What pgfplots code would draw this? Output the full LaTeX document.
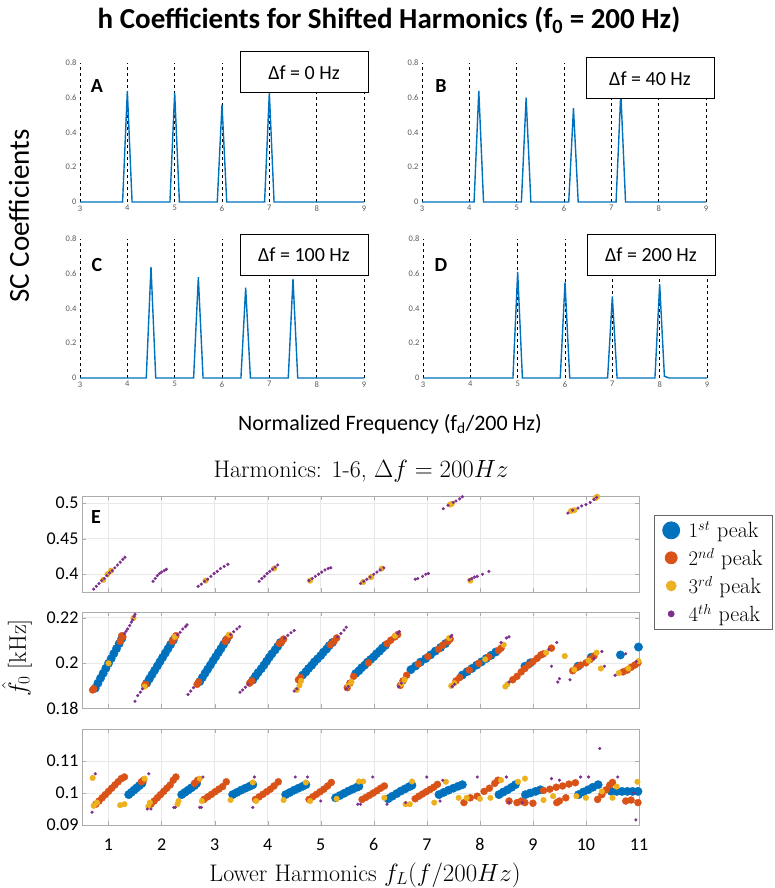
\documentclass[border=0pt]{standalone}
\usepackage{pgfplots}
\pgfplotsset{compat=1.18}
\usepackage{fontspec}
\newfontfamily\carlito{Carlito}
\definecolor{mblue}{rgb}{0,0.447,0.741}
\definecolor{morange}{rgb}{0.85,0.325,0.098}
\definecolor{myellow}{rgb}{0.929,0.694,0.125}
\definecolor{mpurple}{rgb}{0.494,0.184,0.556}
\pgfplotsset{
 specax/.style={scale only axis, width=284pt, height=139pt, xmin=3, xmax=9, ymin=0, ymax=0.8,
   xtick={3,4,5,6,7,8,9}, xticklabels={3,4,5,6,7,8,9},
   ytick={0,0.2,0.4,0.6,0.8}, yticklabels={0,0.2,0.4,0.6,0.8},
   xmajorgrids, major grid style={black, dashed, line width=0.7pt},
   y axis line style={draw=none}, x axis line style={gray!50},
   tick label style={font=\carlito\fontsize{8.5}{9}\selectfont, text=black!65},
   major tick length=0pt, /pgf/number format/assume math mode=true},
 specline/.style={color=mblue, line width=1.4pt, no marks},
 scat/.style={scale only axis, width=557pt, height=96pt, xmin=0.5, xmax=11,
   xtick={1,2,3,4,5,6,7,8,9,10,11},
   xmajorgrids, ymajorgrids, grid style={gray!18, line width=0.5pt},
   axis line style={gray!65, line width=0.8pt}, tick style={gray!65},
   major tick length=4pt, tick align=inside,
   tick label style={font=\carlito\fontsize{18}{20}\selectfont},
   xticklabel style={yshift=-10pt},
   /pgf/number format/assume math mode=true},
 pb/.style={only marks, mark=*, mark size=4.2pt, mark options={draw=mblue, fill=mblue}},
 po/.style={only marks, mark=*, mark size=3.5pt, mark options={draw=morange, fill=morange}},
 py/.style={only marks, mark=*, mark size=2.8pt, mark options={draw=myellow, fill=myellow}},
 pp/.style={only marks, mark=*, mark size=1.4pt, mark options={draw=mpurple, fill=mpurple}},
}
\begin{document}
\begin{tikzpicture}
\path[use as bounding box] (0,0) rectangle (775pt,-888pt);

% ---------- Panel A ----------
\begin{axis}[specax, at={(80pt,-202pt)}, anchor=south west]
\addplot[specline] coordinates {(3,0) (3.9,0) (4,0.64) (4.1,0) (4.9,0) (5,0.63) (5.1,0) (5.9,0) (6,0.56) (6.1,0) (6.9,0) (7,0.63) (7.1,0) (9,0)};
\end{axis}
% ---------- Panel B ----------
\begin{axis}[specax, at={(422pt,-202pt)}, anchor=south west]
\addplot[specline] coordinates {(3,0) (4.1,0) (4.2,0.64) (4.3,0) (5.1,0) (5.2,0.60) (5.3,0) (6.1,0) (6.2,0.54) (6.3,0) (7.1,0) (7.2,0.63) (7.3,0) (9,0)};
\end{axis}
% ---------- Panel C ----------
\begin{axis}[specax, at={(80pt,-378pt)}, anchor=south west]
\addplot[specline] coordinates {(3,0) (4.4,0) (4.5,0.64) (4.6,0) (5.4,0) (5.5,0.58) (5.6,0) (6.4,0) (6.5,0.52) (6.6,0) (7.4,0) (7.5,0.57) (7.6,0) (9,0)};
\end{axis}
% ---------- Panel D ----------
\begin{axis}[specax, at={(423pt,-378pt)}, anchor=south west]
\addplot[specline] coordinates {(3,0) (4.9,0) (5,0.61) (5.1,0) (5.9,0) (6,0.55) (6.1,0) (6.9,0) (7,0.47) (7.1,0) (7.9,0) (8,0.54) (8.1,0.01) (8.2,0) (9,0)};
\end{axis}

% annotation boxes and letters
\begin{scope}[every node/.style={draw, line width=1pt, fill=white, minimum width=128pt, minimum height=41pt, font=\carlito\fontsize{20}{23}\selectfont}]
\node at (304pt,-72.5pt) {Δf = 0 Hz};
\node at (650pt,-78.5pt) {Δf = 40 Hz};
\node at (304pt,-255pt) {Δf = 100 Hz};
\node at (651pt,-255pt) {Δf = 200 Hz};
\end{scope}
\begin{scope}[every node/.style={font=\carlito\bfseries\fontsize{20}{24}\selectfont}]
\node at (97pt,-86pt) {A};
\node at (441pt,-86pt) {B};
\node at (97pt,-265pt) {C};
\node at (441pt,-265pt) {D};
\end{scope}
\node[font=\carlito\bfseries\fontsize{29}{34}\selectfont] at (389pt,-20pt) {h Coefficients for Shifted Harmonics (f\textsubscript{0} = 200 Hz)};
\node[rotate=90, font=\carlito\fontsize{29}{34}\selectfont] at (19pt,-216pt) {SC Coefficients};
\node[font=\carlito\fontsize{22}{26}\selectfont] at (390pt,-424pt) {Normalized Frequency (f\textsubscript{d}/200 Hz)};

% ---------- Panel E top ----------
\begin{axis}[scat, at={(82pt,-592pt)}, anchor=south west, ymin=0.375, ymax=0.51,
  ytick={0.4,0.45,0.5}, yticklabels={0.4,0.45,0.5}, xticklabels={},
  legend style={at={(1.2406,0.802)}, anchor=north east, draw=gray!80!black, line width=0.8pt,
    font=\fontsize{22}{26}\selectfont, row sep=5pt, inner xsep=8pt, inner ysep=4pt,
    /tikz/every odd column/.append style={column sep=7pt}},
  legend cell align=left]
\addlegendimage{only marks, mark=*, mark size=8.5pt, mark options={draw=mblue, fill=mblue}}
\addlegendentry{$1^{st}$ peak}
\addlegendimage{only marks, mark=*, mark size=6pt, mark options={draw=morange, fill=morange}}
\addlegendentry{$2^{nd}$ peak}
\addlegendimage{only marks, mark=*, mark size=5pt, mark options={draw=myellow, fill=myellow}}
\addlegendentry{$3^{rd}$ peak}
\addlegendimage{only marks, mark=*, mark size=3pt, mark options={draw=mpurple, fill=mpurple}}
\addlegendentry{$4^{th}$ peak}
\addplot[py, forget plot] coordinates {(0.90,0.392) (0.98,0.400) (1.05,0.405) (2.83,0.391) (4.12,0.408) (4.80,0.391) (5.80,0.389) (5.95,0.396) (6.15,0.408) (7.82,0.391) (7.44,0.498) (7.47,0.499) (9.72,0.489) (9.78,0.490) (10.18,0.507) (10.21,0.509)};
\addplot[pp, forget plot] coordinates {
(0.72,0.379) (0.77,0.383) (0.82,0.387) (0.87,0.391) (0.92,0.394) (0.97,0.398) (1.02,0.402) (1.07,0.405) (1.12,0.409) (1.17,0.413) (1.22,0.417) (1.27,0.421) (1.31,0.424)
(1.84,0.390) (1.88,0.394) (1.92,0.398) (1.96,0.401) (2.00,0.403) (2.05,0.405) (2.09,0.407)
(2.69,0.383) (2.75,0.386) (2.81,0.390) (2.87,0.393) (2.93,0.397) (2.99,0.401) (3.05,0.404) (3.11,0.408) (3.18,0.411) (3.25,0.414)
(3.84,0.390) (3.89,0.394) (3.94,0.397) (3.99,0.401) (4.04,0.404) (4.09,0.407) (4.14,0.410) (4.19,0.413)
(4.78,0.391) (4.84,0.394) (4.90,0.397) (4.96,0.400) (5.02,0.403) (5.08,0.406) (5.14,0.408) (5.19,0.409)
(5.75,0.387) (5.81,0.390) (5.87,0.393) (5.93,0.396) (6.00,0.400) (6.06,0.403) (6.12,0.406) (6.19,0.409)
(6.78,0.393) (6.83,0.394) (6.92,0.397) (6.98,0.400) (7.03,0.401)
(7.80,0.392) (7.85,0.394) (7.90,0.396) (7.95,0.397) (8.05,0.400) (8.17,0.404)
(7.31,0.492) (7.40,0.497) (7.50,0.501) (7.55,0.503) (7.62,0.506) (7.67,0.509)
(9.66,0.486) (9.75,0.490) (9.85,0.493) (9.92,0.496) (10.00,0.498) (10.08,0.501) (10.15,0.505) (10.20,0.508)};
\end{axis}

% ---------- Panel E middle ----------
\begin{axis}[scat, at={(82pt,-708pt)}, anchor=south west, ymin=0.18, ymax=0.2225,
  ytick={0.18,0.2,0.22}, yticklabels={0.18,0.2,0.22}, xticklabels={}]
\addplot[pb] coordinates {
(0.75,0.1888) (0.80,0.1910) (0.85,0.1932) (0.90,0.1954) (0.95,0.1976) (1.00,0.1998) (1.05,0.2019) (1.10,0.2041) (1.15,0.2063) (1.20,0.2085) (1.25,0.2107)
(1.72,0.1910) (1.77,0.1929) (1.82,0.1948) (1.87,0.1967) (1.92,0.1986) (1.97,0.2005) (2.02,0.2024) (2.07,0.2043) (2.12,0.2062) (2.17,0.2081) (2.22,0.2100)
(2.72,0.1917) (2.77,0.1935) (2.82,0.1954) (2.87,0.1972) (2.92,0.1990) (2.97,0.2009) (3.02,0.2027) (3.07,0.2045) (3.12,0.2063) (3.17,0.2082) (3.22,0.2100)
(3.72,0.1924) (3.77,0.1941) (3.82,0.1957) (3.88,0.1974) (3.93,0.1990) (3.98,0.2007) (4.03,0.2024) (4.08,0.2040) (4.14,0.2057) (4.19,0.2073) (4.24,0.2090)
(4.66,0.1946) (4.72,0.1960) (4.77,0.1975) (4.83,0.1989) (4.88,0.2004) (4.94,0.2018) (5.00,0.2032) (5.05,0.2047) (5.11,0.2061) (5.16,0.2076) (5.22,0.2090)
(5.66,0.1953) (5.72,0.1965) (5.77,0.1978) (5.83,0.1990) (5.88,0.2003) (5.94,0.2015) (6.00,0.2027) (6.05,0.2040) (6.11,0.2052) (6.16,0.2065) (6.22,0.2077)
(6.70,0.1970) (6.79,0.1986) (6.88,0.2003) (6.98,0.2019) (7.07,0.2035) (7.16,0.2052) (7.26,0.2068) (7.35,0.2085)
(7.67,0.1946) (7.76,0.1961) (7.85,0.1975) (7.94,0.1990) (8.03,0.2004) (8.12,0.2019) (8.21,0.2033) (8.30,0.2048)
(8.85,0.1985) (8.95,0.2000) (9.85,0.1985) (10.10,0.2025) (10.65,0.2035) (10.99,0.2070)};
\addplot[po] coordinates {
(0.70,0.1880) (0.72,0.1885) (1.22,0.2095) (1.27,0.2115) (1.25,0.2120)
(1.70,0.1905) (1.68,0.1900) (2.20,0.2095) (2.24,0.2110) (2.27,0.2120)
(2.70,0.1915) (2.67,0.1905) (3.20,0.2095) (3.24,0.2108) (3.28,0.2118)
(3.70,0.1920) (3.66,0.1910) (4.22,0.2085) (4.27,0.2095) (4.30,0.2105)
(4.62,0.1935) (4.58,0.1925) (5.18,0.2080) (5.25,0.2095) (5.30,0.2110)
(5.50,0.1890) (5.55,0.1910) (5.62,0.1940) (5.90,0.2000) (6.25,0.2085) (6.32,0.2100) (6.40,0.2115) (6.45,0.2125)
(6.50,0.1900) (6.55,0.1920) (6.62,0.1945) (6.84,0.1995) (7.02,0.2028) (7.22,0.2060) (7.30,0.2078) (7.40,0.2095) (7.44,0.2105)
(7.55,0.1920) (7.62,0.1935) (7.80,0.1968) (7.98,0.1998) (8.17,0.2026) (8.35,0.2055) (8.40,0.2065)
(8.62,0.1925) (8.70,0.1940) (8.78,0.1960) (8.85,0.1975) (8.92,0.1990) (9.00,0.2005) (9.08,0.2020) (9.15,0.2035) (9.20,0.2040) (9.35,0.2065)
(9.75,0.1965) (9.82,0.1978) (9.90,0.1990) (10.00,0.2000) (10.08,0.2015) (10.15,0.2030)
(10.70,0.1960) (10.78,0.1968) (10.85,0.1980) (10.92,0.1990) (10.98,0.2000)};
\addplot[py] coordinates {
(1.47,0.2198) (2.25,0.2115) (1.68,0.1895) (3.27,0.2125) (4.60,0.1900) (4.55,0.1880) (4.63,0.1920) (5.52,0.1900) (5.58,0.1915)
(6.40,0.2120) (6.52,0.1905) (6.58,0.1925) (7.42,0.2110) (7.46,0.1898) (7.52,0.1910) (8.45,0.2080) (8.52,0.1905) (8.48,0.1895)
(9.25,0.2045) (9.60,0.2030) (9.78,0.1970) (10.05,0.2010) (10.20,0.2045) (10.28,0.1975) (10.62,0.1955) (10.99,0.2008) (10.80,0.1975)
(1.00,0.1998) (8.10,0.2015)};
\addplot[pp] coordinates {
(1.30,0.2130) (1.33,0.2140) (1.36,0.2150) (1.40,0.2165) (1.43,0.2180) (1.45,0.2190) (1.48,0.2205) (1.50,0.2215)
(1.50,0.1830) (1.55,0.1855) (1.60,0.1870) (1.64,0.1885) (2.30,0.2125) (2.35,0.2135) (2.40,0.2150) (2.45,0.2160) (2.48,0.2168)
(2.50,0.1860) (2.55,0.1875) (2.60,0.1890) (3.30,0.2125) (3.36,0.2138) (3.42,0.2150) (3.47,0.2160)
(3.48,0.1870) (3.53,0.1880) (3.58,0.1892) (3.63,0.1905) (4.32,0.2110) (4.38,0.2122) (4.44,0.2133) (4.50,0.2143)
(4.50,0.1875) (4.55,0.1885) (5.32,0.2115) (5.38,0.2130) (5.44,0.2145) (5.48,0.2158)
(5.48,0.1885) (5.52,0.1895) (6.45,0.2130) (6.48,0.2138)
(6.47,0.1895) (6.52,0.1910) (7.45,0.2115) (7.47,0.2122)
(7.48,0.1895) (7.52,0.1905) (8.50,0.2110) (8.55,0.2115) (8.40,0.2090)
(8.55,0.1915) (9.30,0.2060) (9.45,0.2090) (9.47,0.1915) (9.50,0.1930) (9.35,0.1985)
(9.70,0.1925) (10.35,0.1985) (10.30,0.2050) (10.15,0.2020)
(10.55,0.1945) (10.75,0.2040) (10.95,0.2005)};
\end{axis}

% ---------- Panel E bottom ----------
\begin{axis}[scat, at={(82pt,-825pt)}, anchor=south west, ymin=0.09, ymax=0.12,
  ytick={0.09,0.1,0.11}, yticklabels={0.09,0.1,0.11},
  xticklabels={1,2,3,4,5,6,7,8,9,10,11}]
\addplot[pb] coordinates {
(1.38,0.0995) (1.43,0.1002) (1.48,0.1009) (1.53,0.1016) (1.58,0.1023) (1.63,0.1030)
(2.38,0.0995) (2.44,0.1002) (2.50,0.1009) (2.56,0.1016) (2.62,0.1023) (2.66,0.1030)
(3.34,0.0995) (3.42,0.1002) (3.50,0.1009) (3.58,0.1015) (3.66,0.1021) (3.72,0.1026)
(4.34,0.0995) (4.42,0.1002) (4.50,0.1009) (4.58,0.1015) (4.66,0.1021) (4.72,0.1026)
(5.28,0.0985) (5.36,0.0992) (5.44,0.0999) (5.52,0.1006) (5.60,0.1012) (5.68,0.1018) (5.72,0.1021)
(6.27,0.0982) (6.35,0.0990) (6.43,0.0998) (6.51,0.1006) (6.59,0.1013) (6.67,0.1020) (6.72,0.1024)
(7.23,0.0995) (7.32,0.1002) (7.41,0.1009) (7.50,0.1015) (7.59,0.1021) (7.67,0.1026)
(8.36,0.0995) (8.44,0.1003) (8.52,0.1010) (8.60,0.1018) (8.67,0.1026)
(8.86,0.0995) (8.95,0.1000) (9.05,0.1005) (9.14,0.1010)
(9.86,0.0995) (9.95,0.1003) (10.04,0.1010) (10.13,0.1018) (10.23,0.1026)
(10.48,0.1005) (10.58,0.1005) (10.68,0.1005) (10.78,0.1005) (10.88,0.1005) (10.98,0.1005)};
\addplot[po] coordinates {
(0.76,0.0965) (0.82,0.0975) (0.88,0.0985) (0.94,0.0995) (1.00,0.1005) (1.06,0.1015) (1.12,0.1025) (1.18,0.1035) (1.24,0.1045) (1.30,0.1050)
(1.80,0.0965) (1.86,0.0975) (1.92,0.0985) (1.98,0.0995) (2.04,0.1005) (2.10,0.1015) (2.16,0.1025) (2.22,0.1040) (2.27,0.1050)
(2.80,0.0980) (2.87,0.0988) (2.94,0.0996) (3.01,0.1004) (3.08,0.1012) (3.15,0.1020) (3.22,0.1035)
(3.77,0.0980) (3.84,0.0988) (3.91,0.0996) (3.98,0.1004) (4.05,0.1012) (4.12,0.1022) (4.20,0.1035)
(4.78,0.0980) (4.85,0.0988) (4.92,0.0996) (4.99,0.1004) (5.06,0.1012) (5.13,0.1022) (5.20,0.1033)
(5.78,0.0980) (5.85,0.0986) (5.92,0.0993) (5.99,0.1000) (6.06,0.1007) (6.13,0.1015) (6.20,0.1022)
(6.78,0.0982) (6.85,0.0990) (6.92,0.0997) (6.99,0.1004) (7.06,0.1011) (7.13,0.1018) (7.20,0.1027)
(1.62,0.1035) (1.66,0.1040) (2.62,0.1030) (2.68,0.1040)
(7.70,0.0970) (7.82,0.0985) (7.95,0.0990) (8.08,0.1005) (8.18,0.1015) (8.28,0.1030) (8.34,0.1040)
(8.55,0.0975) (8.70,0.0970) (8.78,0.0975) (9.20,0.1008) (9.32,0.1012) (9.44,0.1018) (9.56,0.1022) (9.68,0.1028) (9.80,0.1032)
(9.50,0.0975) (9.62,0.0985) (9.45,0.0970)
(10.22,0.0980) (10.30,0.0995) (10.38,0.1010) (10.45,0.1025) (10.50,0.1033) (10.75,0.0975) (10.85,0.0978) (10.98,0.0970)
(8.85,0.0970) (9.00,0.0968)};
\addplot[py] coordinates {
(0.70,0.1047) (0.72,0.0960) (0.78,0.0970) (1.22,0.0962) (1.30,0.0965) (1.68,0.1045) (1.75,0.0958) (1.78,0.0970) (2.30,0.0965) (2.32,0.0975)
(2.72,0.1045) (2.76,0.0975) (3.30,0.0978) (3.72,0.1033) (3.78,0.0975) (4.30,0.0978) (4.72,0.1033) (4.80,0.0975) (5.30,0.0982) (5.72,0.1036)
(5.80,0.1036) (6.20,0.0985) (6.72,0.1036) (6.60,0.0965) (6.68,0.0965) (7.14,0.0970) (7.36,0.1035) (7.60,0.0985) (7.75,0.0985) (8.00,0.0982)
(8.20,0.0985) (8.40,0.1040) (8.72,0.1035) (8.85,0.1045) (9.20,0.0978) (9.38,0.0990) (9.82,0.0990) (10.00,0.0985) (10.30,0.1005) (10.58,0.1020)
(10.97,0.1035) (10.50,0.0985)};
\addplot[pp] coordinates {
(0.69,0.0940) (0.75,0.1060) (1.76,0.1060) (1.73,0.0950) (1.80,0.0950) (2.23,0.0955) (2.26,0.0955) (2.78,0.1050) (2.72,0.0955) (2.75,0.0955)
(3.75,0.1050) (3.72,0.0955) (4.52,0.1050) (4.75,0.1050) (5.00,0.0975) (5.70,0.0965) (5.75,0.0965) (5.98,0.1050) (6.60,0.0970) (6.25,0.0965)
(7.00,0.1050) (7.30,0.1040) (7.95,0.1050) (8.50,0.1050) (8.55,0.0970) (8.80,0.0970) (9.35,0.1045) (9.50,0.1040) (9.90,0.1050) (10.05,0.1050)
(10.26,0.1139) (10.94,0.0916) (10.60,0.1050) (10.90,0.1000) (7.25,0.0975)};
\end{axis}

\node[font=\fontsize{24}{28}\selectfont] at (361pt,-471pt) {Harmonics: 1-6, $\Delta f = 200Hz$};
\node[font=\carlito\bfseries\fontsize{20}{24}\selectfont] at (96pt,-517pt) {E};
\node[rotate=90, font=\fontsize{24}{28}\selectfont] at (17pt,-658pt) {$\hat{f}_0$ [kHz]};
\node[font=\fontsize{24}{28}\selectfont] at (365pt,-875pt) {Lower Harmonics $f_L(f/200Hz)$};
\end{tikzpicture}
\end{document}
